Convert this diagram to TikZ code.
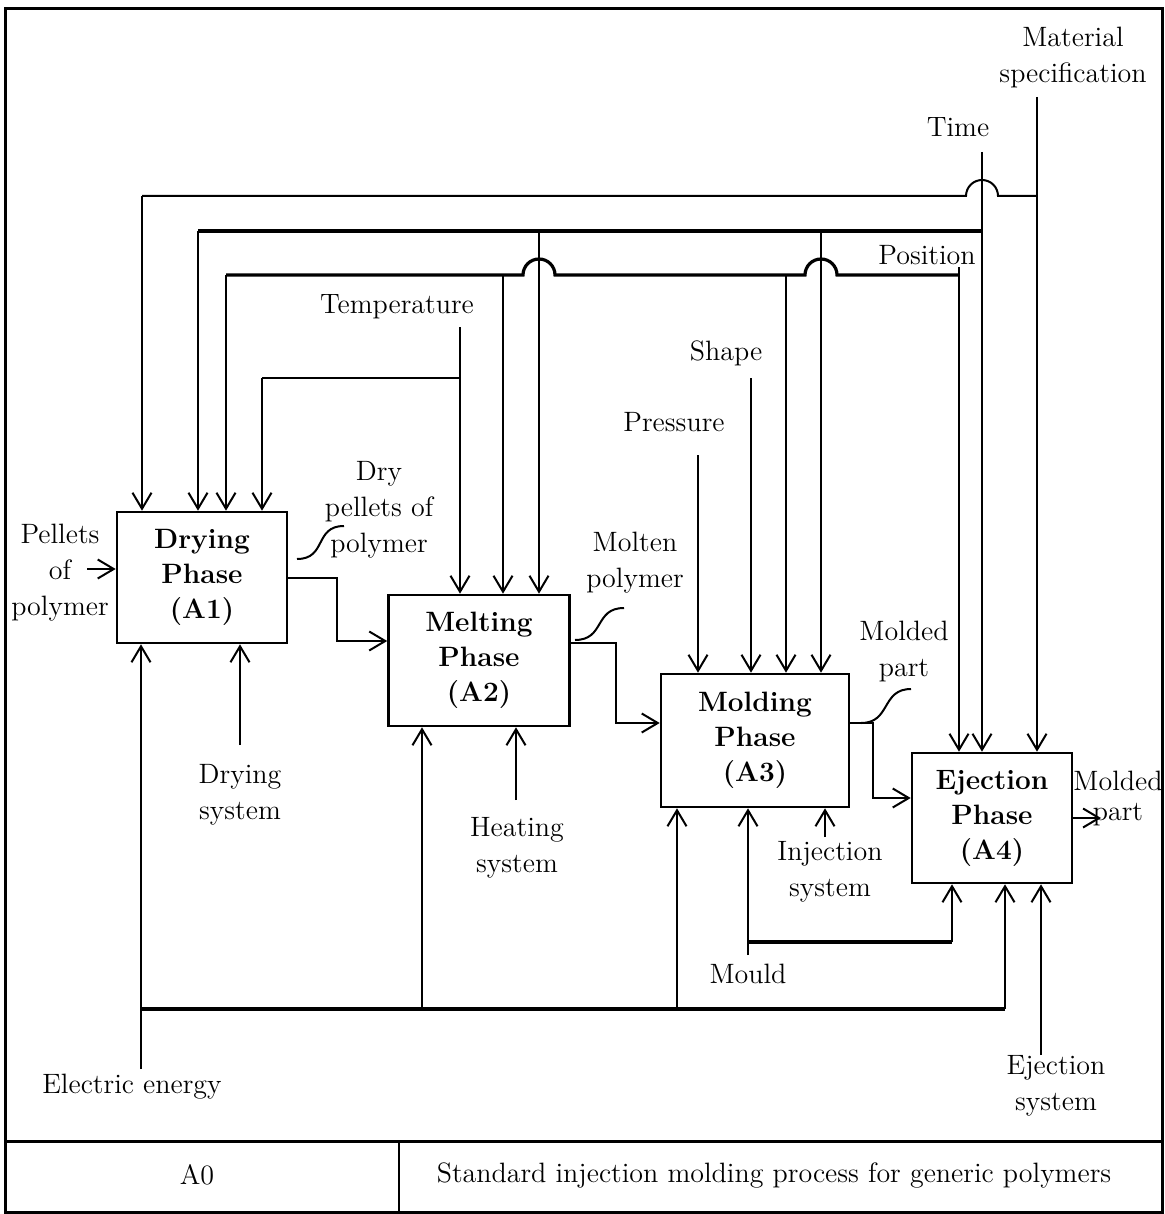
\documentclass[tikz,border=0pt]{standalone}
\usepackage{amsmath}
\usepackage{amssymb}
\usetikzlibrary{arrows.meta}

\begin{document}
\begin{tikzpicture}[x=0.5pt,y=-0.5pt,
  phase/.style={draw,line width=1.3pt,align=center,inner sep=0pt,font=\fontsize{14}{17.5}\selectfont\bfseries},
  lbl/.style={align=center,inner sep=1pt,font=\fontsize{14}{18}\selectfont},
  arr/.style={line width=1pt,-{Straight Barb[length=8pt,width=9.5pt,line width=1pt]}},
  wire/.style={line width=1pt},
  bus/.style={line width=1.6pt}]
\useasboundingbox (0,0) rectangle (1165,1214);
\draw [line width=1.5pt] (5,9) rectangle (1162,1212);
\draw [line width=1.5pt] (5,1141) -- (1162,1141);
\draw [line width=1pt] (399,1141) -- (399,1212);
\node [lbl] (code) at (197,1175) {A0};
\node [lbl] (title) at (774,1175) {Standard injection molding process for generic polymers};
\node [phase,minimum width=85pt,minimum height=65.5pt] (A1) at (202,577.5) {Drying\\Phase\\(A1)};
\node [phase,minimum width=90.5pt,minimum height=65.5pt] (A2) at (479,660.5) {Melting\\Phase\\(A2)};
\node [phase,minimum width=94pt,minimum height=66.5pt] (A3) at (755,740.5) {Molding\\Phase\\(A3)};
\node [phase,minimum width=80pt,minimum height=65pt] (A4) at (992,818) {Ejection\\Phase\\(A4)};
\node [lbl] (matspec) at (1073,58) {Material\\specification};
\node [lbl] (time) at (958,127) {Time};
\node [lbl] (position) at (927,255) {Position};
\node [lbl] (temp) at (397,307) {Temperature};
\node [lbl] (shape) at (726,353) {Shape};
\node [lbl] (pressure) at (674,422) {Pressure};
\node [lbl] (pellets) at (60,573) {Pellets\\of\\polymer};
\node [lbl] (drypel) at (379,510) {Dry\\pellets of\\polymer};
\node [lbl] (molten) at (635,563) {Molten\\polymer};
\node [lbl] (moldedA) at (904,651) {Molded\\part};
\node [lbl,font=\fontsize{14}{15}\selectfont] (moldedB) at (1118,798) {Molded\\part};
\node [lbl] (drysys) at (240,795) {Drying\\system};
\node [lbl] (heatsys) at (517,848) {Heating\\system};
\node [lbl] (injsys) at (830,872) {Injection\\system};
\node [lbl] (mould) at (748,974) {Mould};
\node [lbl] (elec) at (132,1087) {Electric energy};
\node [lbl] (ejsys) at (1056,1086) {Ejection\\system};
\coordinate (ms) at (1037,97);
\coordinate (tm) at (982,152);
\coordinate (ps) at (959,267);
\coordinate (tp) at (460,327);
\coordinate (sh) at (751,378);
\coordinate (pr) at (698,455);
\coordinate (busA) at (142,196);
\coordinate (busB) at (198,231);
\coordinate (busC) at (226,275);
\coordinate (busT) at (262,378);
\coordinate (bB2) at (539,231);
\coordinate (bB3) at (821,231);
\coordinate (bC2) at (503,275);
\coordinate (bC3) at (786,275);
\coordinate (hA) at (tm |- busA);
\coordinate (hC2) at (bB2 |- busC);
\coordinate (hC3) at (bB3 |- busC);
\coordinate (el) at (141,1069);
\coordinate (elbus) at (141,1009);
\coordinate (e2) at (422,1009);
\coordinate (e3) at (677,1009);
\coordinate (e4) at (1005,1009);
\coordinate (ds) at (240,745);
\coordinate (hs) at (516,800);
\coordinate (is) at (825,837);
\coordinate (md) at (748,955);
\coordinate (mdbus) at (748,942);
\coordinate (m4) at (952,942);
\coordinate (es) at (1041,1055);
\coordinate (inp) at (87,569);
\coordinate (j12) at (337,641);
\coordinate (j23) at (616,643);
\coordinate (k23) at (616,723);
\coordinate (j34) at (873,723);
\coordinate (k34) at (873,798);
\coordinate (out) at (1101,818);
% controls from above
\draw [arr] (ms) -- (ms |- A4.north);
\draw [arr] (tm) -- (tm |- A4.north);
\draw [arr] (ps) -- (ps |- A4.north);
\draw [wire] (ms |- busA) -- ([xshift=8pt]hA) arc[start angle=0,end angle=180,radius=8pt] -- (busA);
\draw [arr] (busA) -- (busA |- A1.north);
\draw [bus] (tm |- busB) -- (busB);
\draw [arr] (busB) -- (busB |- A1.north);
\draw [arr] (bB2) -- (bB2 |- A2.north);
\draw [arr] (bB3) -- (bB3 |- A3.north);
\draw [bus] (ps |- busC) -- ([xshift=8pt]hC3) arc[start angle=0,end angle=180,radius=8pt] -- ([xshift=8pt]hC2) arc[start angle=0,end angle=180,radius=8pt] -- (busC);
\draw [arr] (busC) -- (busC |- A1.north);
\draw [arr] (bC2) -- (bC2 |- A2.north);
\draw [arr] (bC3) -- (bC3 |- A3.north);
\draw [arr] (tp) -- (tp |- A2.north);
\draw [wire] (tp |- busT) -- (busT);
\draw [arr] (busT) -- (busT |- A1.north);
\draw [arr] (sh) -- (sh |- A3.north);
\draw [arr] (pr) -- (pr |- A3.north);
% mechanisms from below
\draw [arr] (el) -- (el |- A1.south);
\draw [bus] (elbus) -- (e4);
\draw [arr] (e2) -- (e2 |- A2.south);
\draw [arr] (e3) -- (e3 |- A3.south);
\draw [arr] (e4) -- (e4 |- A4.south);
\draw [arr] (ds) -- (ds |- A1.south);
\draw [arr] (hs) -- (hs |- A2.south);
\draw [arr] (is) -- (is |- A3.south);
\draw [arr] (md) -- (md |- A3.south);
\draw [bus] (mdbus) -- (m4);
\draw [arr] (m4) -- (m4 |- A4.south);
\draw [arr] (es) -- (es |- A4.south);
% flow
\draw [arr] (inp) -- (inp -| A1.west);
\draw [arr] (A1.east) -| (j12) -- (j12 -| A2.west);
\draw [arr] (j23 -| A2.east) -- (j23) -- (k23) -- (k23 -| A3.west);
\draw [arr] (j34 -| A3.east) -- (j34) -- (k34) -- (k34 -| A4.west);
\draw [arr] (A4.east) -- (out);
\draw [wire] (297,559) .. controls +(30,0) and +(-30,0) .. (344,526);
\draw [wire] (575,640) .. controls +(30,0) and +(-30,0) .. (624,608);
\draw [wire] (861,723) .. controls +(30,0) and +(-30,0) .. (911,689);
\end{tikzpicture}
\end{document}
